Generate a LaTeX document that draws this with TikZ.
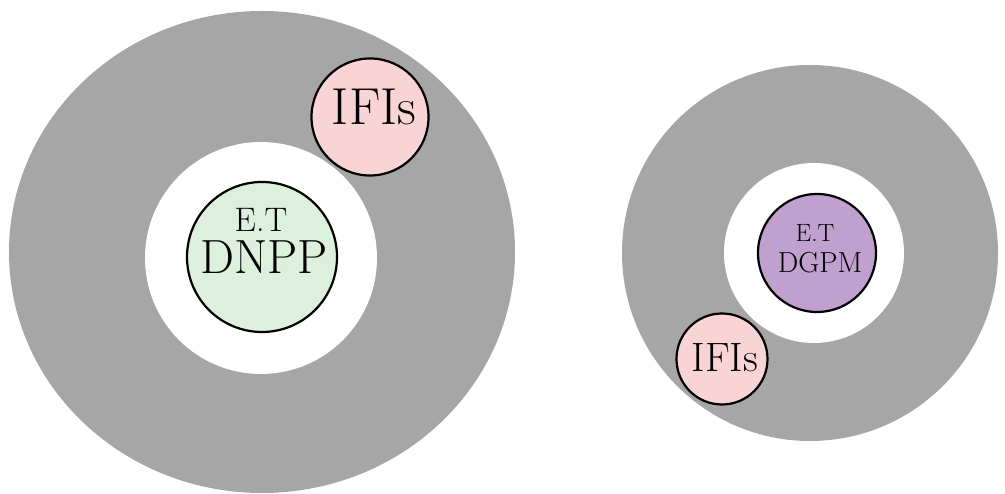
\documentclass[tikz,border=0pt]{standalone}
\usepackage{fontspec}
\definecolor{ringgrey}{RGB}{166,166,166}
\definecolor{etgreen}{RGB}{221,240,221}
\definecolor{ifipink}{RGB}{249,212,212}
\definecolor{etpurple}{RGB}{192,160,206}
\tikzset{
  entity/.style={circle, draw=black, line width=2.2pt, inner sep=0pt},
  lbl/.style={anchor=base, inner sep=0pt, text=black}
}
\newcommand{\fsz}[1]{\fontsize{#1}{#1}\selectfont}
\begin{document}
\begin{tikzpicture}[x=1pt,y=1pt]
  \useasboundingbox (0,0) rectangle (1005,494);
  \clip (0,0) rectangle (1005,494);

  % ---- left group: outer ring, inner clearing, entities ----
  \fill[ringgrey] (262,242) ellipse [x radius=253, y radius=241];
  \fill[white] (261,236) circle [radius=116];
  \node[entity, fill=etgreen, minimum size=150pt] (dnpp) at (262,237) {};
  \node[lbl, font=\fsz{34}] (dnppA) at (261,262) {E.T};
  \node[lbl, font=\fsz{48}] (dnppB) at (264,220) {DNPP};
  \node[entity, fill=ifipink, minimum size=117pt] (ifiL) at (370,377) {};
  \node[lbl, font=\fsz{52}] (ifiLt) at (374,369) {IFIs};

  % ---- right group ----
  \fill[ringgrey] (810,241) circle [radius=188];
  \fill[white] (814,241) circle [radius=90];
  \node[entity, fill=etpurple, minimum size=118pt] (dgpm) at (817,241) {};
  \node[lbl, font=\fsz{25}] (dgpmA) at (815,252) {E.T};
  \node[lbl, font=\fsz{29}] (dgpmB) at (820,221) {DGPM};
  \node[entity, fill=ifipink, minimum size=91pt] (ifiR) at (722,135) {};
  \node[lbl, font=\fsz{41}] (ifiRt) at (725,122) {IFIs};
\end{tikzpicture}
\end{document}
